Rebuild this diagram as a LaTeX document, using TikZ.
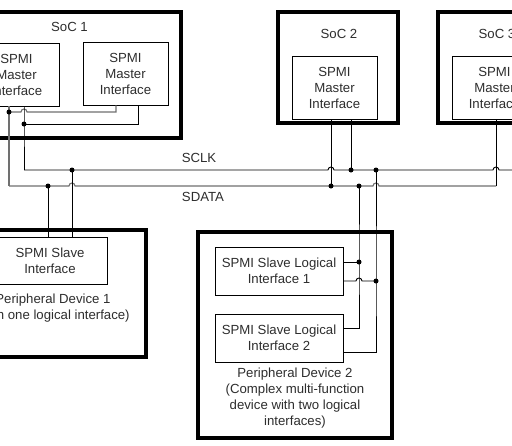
\documentclass[tikz,border=0pt]{standalone}
\usepackage{fontspec}
\setmainfont{Liberation Sans}
\definecolor{txt}{HTML}{2E2E2E}
\definecolor{bus}{HTML}{707070}
\begin{document}
\begin{tikzpicture}[x=1pt,y=-1pt,
  every node/.style={font=\fontsize{13.2}{16}\selectfont, text=txt, align=center, inner sep=0pt},
  outerbox/.style={draw=black, line width=3.6pt},
  innerbox/.style={draw=black, line width=0.8pt},
  wire/.style={draw=black, line width=0.9pt},
  gwire/.style={draw=bus, line width=1.1pt}]
\useasboundingbox (0,0) rectangle (512,445);
\fill[white] (0,0) rectangle (512,445);
\clip (0,0) rectangle (512,445);

% outer boxes
\node[outerbox, minimum width=223pt, minimum height=126pt] (soc1) at (69.5,75) {};
\node[outerbox, minimum width=120pt, minimum height=111pt] (soc2) at (338,67.5) {};
\node[outerbox, minimum width=120pt, minimum height=111pt] (soc3) at (498,67.5) {};
\node[outerbox, minimum width=186pt, minimum height=127pt] (per1) at (53,293.5) {};
\node[outerbox, minimum width=194pt, minimum height=206pt] (per2) at (295,335) {};

% labels of outer boxes
\node (soc1lbl) at (69.5,27) {SoC 1};
\node (soc2lbl) at (339,33.5) {SoC 2};
\node (soc3lbl) at (497,33.5) {SoC 3};
\node (per1lbl) at (53,308.5) {Peripheral Device 1\\(with one logical interface)};
\node (per2lbl) at (295,398.5) {Peripheral Device 2\\(Complex multi-function\\device with two logical\\interfaces)};

% inner boxes
\node[innerbox, minimum width=85pt, minimum height=63pt] (m1) at (16.5,74.5) {SPMI\\Master\\Interface};
\node[innerbox, minimum width=85pt, minimum height=63pt] (m2) at (125.5,73.5) {SPMI\\Master\\Interface};
\node[innerbox, minimum width=85pt, minimum height=63pt] (m2b) at (334.5,87.5) {SPMI\\Master\\Interface};
\node[innerbox, minimum width=85pt, minimum height=63pt] (m3) at (494.5,87.5) {SPMI\\Master\\Interface};
\node[innerbox, minimum width=114pt, minimum height=47pt] (s1) at (50,260.5) {SPMI Slave\\Interface};
\node[innerbox, minimum width=128pt, minimum height=48pt] (l1) at (279,271) {SPMI Slave Logical\\Interface 1};
\node[innerbox, minimum width=128pt, minimum height=48pt] (l2) at (279,338) {SPMI Slave Logical\\Interface 2};

% bus labels
\node (sclk) at (199,158) {SCLK};
\node (sdata) at (203,197) {SDATA};

% named points
\coordinate (jA) at (9,112);
\coordinate (jB) at (24,124);
\coordinate (c1) at (116,112);
\coordinate (c2) at (138,124);
\coordinate (sdL) at (9,186);
\coordinate (scL) at (24,170);
\coordinate (sdR) at (496,186);
\coordinate (scR) at (520,170);
\coordinate (j48) at (48,186);
\coordinate (j72) at (72,170);
\coordinate (j331) at (331,186);
\coordinate (j351) at (351,170);
\coordinate (j359) at (359,186);
\coordinate (j376) at (376,170);
\coordinate (p1) at (359,262);
\coordinate (p2) at (376,281);
\coordinate (p3) at (359,328);
\coordinate (p4) at (376,352);

% SoC 1 internal wiring
\draw[gwire] (m1.south -| jA) -- (jA) -- (sdL);
\draw[gwire] (jA) -- (21,112) arc[start angle=180, end angle=0, radius=3pt] -- (c1) -- (c1 |- m2.south);
\draw[wire] (m1.south -| jB) -- (jB) -- (scL);
\draw[wire] (jB) -- (c2) -- (c2 |- m2.south);

% SCLK bus
\draw[wire] (scL) -- (328,170) arc[start angle=180, end angle=0, radius=3pt]
  -- (493,170) arc[start angle=180, end angle=0, radius=3pt] -- (scR);
% SDATA bus
\draw[gwire] (sdL) -- (69,186) arc[start angle=180, end angle=0, radius=3pt]
  -- (373,186) arc[start angle=180, end angle=0, radius=3pt] -- (sdR);
\draw[wire] (sdR) -- (sdR |- m3.south);

% SoC 2 taps
\draw[wire] (m2b.south -| j331) -- (j331);
\draw[wire] (m2b.south -| j351) -- (j351);

% Peripheral 1 taps
\draw[wire] (j48) -- (j48 |- s1.north);
\draw[wire] (j72) -- (j72 |- s1.north);

% Peripheral 2 taps
\draw[wire] (j359) -- (p1) -- (p3) -- (p3 -| l2.east);
\draw[wire] (p1) -- (p1 -| l1.east);
\draw[wire] (j376) -- (p2) -- (p4) -- (p4 -| l2.east);
\draw[wire] (l1.east |- p2) -- (356,281) arc[start angle=180, end angle=0, radius=3pt] -- (p2);

% junction dots
\foreach \p in {jA,jB,j48,j72,j331,j351,j359,j376,p1,p2}
  \fill[black] (\p) circle (2.5pt);
\end{tikzpicture}
\end{document}
